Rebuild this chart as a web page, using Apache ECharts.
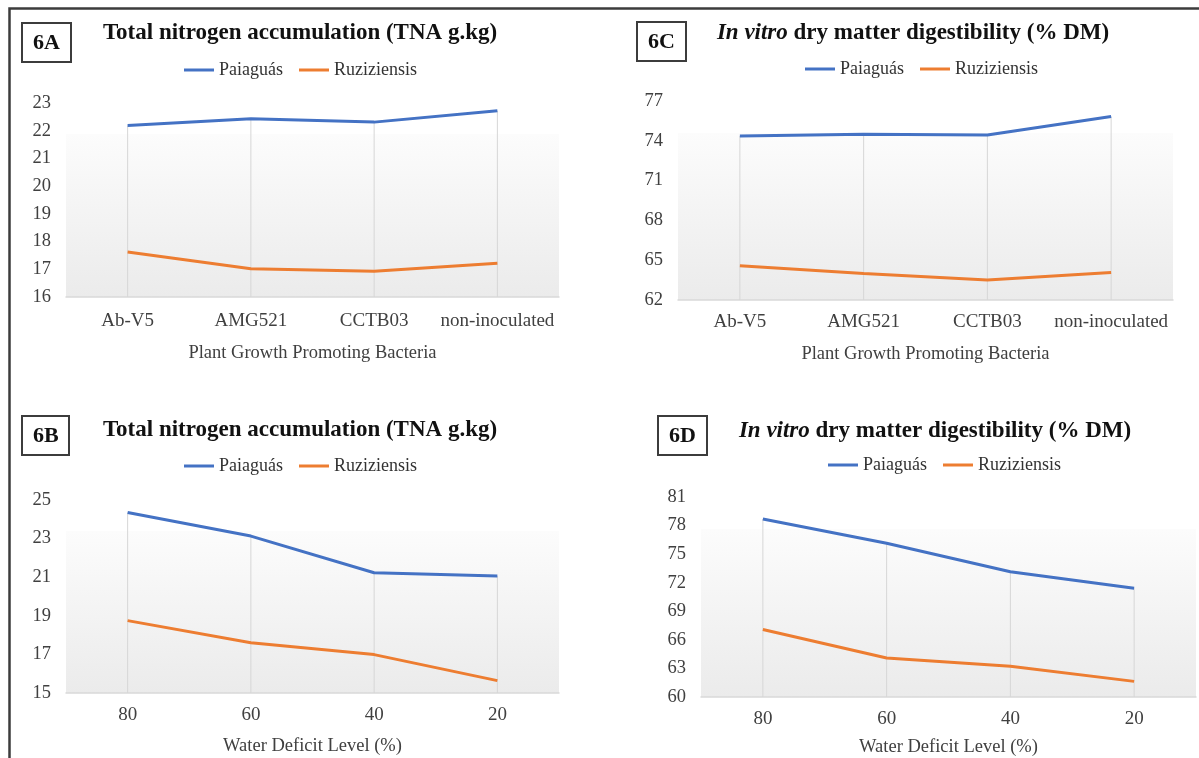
<!DOCTYPE html>
<html><head><meta charset="utf-8">
<script src="https://cdn.jsdelivr.net/npm/echarts@6/dist/echarts.min.js"></script>
<style>html,body{margin:0;padding:0;background:#fff}#c{width:1199px;height:758px}</style>
</head><body><div id="c"></div>
<script>
// ---- data ----
const bacteria = ['Ab-V5', 'AMG521', 'CCTB03', 'non-inoculated'];
const deficit = ['80', '60', '40', '20'];
const seriesNames = ['Paiaguás', 'Ruziziensis'];
const tnaBactPaiaguas = [22.19, 22.43, 22.31, 22.72];
const tnaBactRuz = [17.62, 17.02, 16.93, 17.22];
const ivdBactPaiaguas = [74.37, 74.50, 74.43, 75.83];
const ivdBactRuz = [64.58, 64.00, 63.50, 64.08];
const tnaWaterPaiaguas = [24.35, 23.13, 21.23, 21.06];
const tnaWaterRuz = [18.75, 17.60, 16.99, 15.64];
const ivdWaterPaiaguas = [78.68, 76.15, 73.16, 71.41];
const ivdWaterRuz = [67.09, 64.10, 63.22, 61.64];
const panelLabels = ['6A', '6C', '6B', '6D'];
const titleTNA = 'Total nitrogen accumulation (TNA g.kg)';
const titleIVD = '{i|In vitro} dry matter digestibility (% DM)';
const xNameBact = 'Plant Growth Promoting Bacteria';
const xNameWater = 'Water Deficit Level (%)';
const yRanges = [[16, 23, 1], [62, 77, 3], [15, 25, 2], [60, 81, 3]];

// ---- layout / style ----
const FONT = "'Liberation Serif', 'Times New Roman', serif";
const BLUE = '#4472C4', ORANGE = '#ED7D31';
const panels = [
  {cats: bacteria, p: tnaBactPaiaguas, r: tnaBactRuz, title: titleTNA, xName: xNameBact,
   grid: {left: 66, top: 103, width: 493, height: 194}, box: [22, 23], tc: [300, 33], leg: [184, 61], nameGap: 47, lm: 15},
  {cats: bacteria, p: ivdBactPaiaguas, r: ivdBactRuz, title: titleIVD, xName: xNameBact,
   grid: {left: 678, top: 101, width: 495, height: 199}, box: [637, 22], tc: [913, 33], leg: [805, 60], nameGap: 45, lm: 13},
  {cats: deficit, p: tnaWaterPaiaguas, r: tnaWaterRuz, title: titleTNA, xName: xNameWater,
   grid: {left: 66, top: 500, width: 493, height: 193}, box: [22, 416], tc: [300, 430], leg: [184, 457], nameGap: 44, lm: 13},
  {cats: deficit, p: ivdWaterPaiaguas, r: ivdWaterRuz, title: titleIVD, xName: xNameWater,
   grid: {left: 701, top: 497, width: 495, height: 200}, box: [658, 416], tc: [935, 431], leg: [828, 456], nameGap: 41, lm: 13}
];

const bg = {type: 'linear', x: 0, y: 0, x2: 0, y2: 1, colorStops: [
  {offset: 0, color: '#ffffff'}, {offset: 0.16, color: '#ffffff'},
  {offset: 0.161, color: '#fcfcfc'}, {offset: 1, color: '#ebebeb'}]};

const txt = (size, color, extra) => Object.assign({fontFamily: FONT, fontSize: size, color: color, fontWeight: 'normal', fontStyle: 'normal'}, extra || {});

const option = {
  animation: false,
  backgroundColor: '#ffffff',
  textStyle: {fontFamily: FONT},
  grid: [], xAxis: [], yAxis: [], series: [], legend: [], title: [], graphic: []
};

option.graphic.push({type: 'polyline', silent: true,
  shape: {points: [[9.5, 758], [9.5, 8.5], [1199, 8.5]]},
  style: {stroke: '#3c3c3c', lineWidth: 2.5, fill: null}});

panels.forEach((pn, i) => {
  option.grid.push(Object.assign({show: true, backgroundColor: bg, borderWidth: 0, containLabel: false}, pn.grid));
  option.xAxis.push({
    type: 'category', gridIndex: i, data: pn.cats, boundaryGap: true,
    axisLine: {show: true, lineStyle: {color: '#d9d9d9', width: 1.5}},
    axisTick: {show: false}, splitLine: {show: false},
    axisLabel: Object.assign(txt(19, '#404040'), {margin: pn.lm, interval: 0, hideOverlap: false}),
    name: pn.xName, nameLocation: 'middle', nameGap: pn.nameGap,
    nameTextStyle: txt(18.5, '#404040')
  });
  const yr = yRanges[i];
  option.yAxis.push({
    type: 'value', gridIndex: i, min: yr[0], max: yr[1], interval: yr[2],
    axisLine: {show: false}, axisTick: {show: false}, splitLine: {show: false},
    axisLabel: Object.assign(txt(18.5, '#404040'), {margin: 15})
  });
  option.series.push({
    type: 'bar', name: 'drop', xAxisIndex: i, yAxisIndex: i, silent: true,
    data: pn.p.map((v, k) => Math.max(v, pn.r[k])), barWidth: 1,
    itemStyle: {color: '#d6d6d6'}, z: 1
  });
  option.series.push({
    type: 'line', name: seriesNames[0], xAxisIndex: i, yAxisIndex: i, data: pn.p,
    symbol: 'none', lineStyle: {color: BLUE, width: 3}, itemStyle: {color: BLUE}, z: 3
  });
  option.series.push({
    type: 'line', name: seriesNames[1], xAxisIndex: i, yAxisIndex: i, data: pn.r,
    symbol: 'none', lineStyle: {color: ORANGE, width: 3}, itemStyle: {color: ORANGE}, z: 3
  });
  option.legend.push({
    data: seriesNames, left: pn.leg[0], top: pn.leg[1], padding: 0,
    icon: 'rect', itemWidth: 30, itemHeight: 3, itemGap: 16,
    textStyle: txt(18, '#333')
  });
  option.title.push({
    text: panelLabels[i], left: pn.box[0], top: pn.box[1],
    borderColor: '#3c3c3c', borderWidth: 2, padding: [9, 11, 8, 11],
    textStyle: {fontFamily: FONT, fontSize: 22, fontWeight: 'bold', color: '#111', lineHeight: 22}
  });
  option.graphic.push({
    type: 'text', silent: true, x: pn.tc[0], y: pn.tc[1],
    style: {
      text: pn.title, align: 'center', verticalAlign: 'middle',
      font: 'bold 23px ' + FONT, fill: '#111',
      rich: {i: {fontStyle: 'italic', fontWeight: 'bold', fontSize: 23, fontFamily: FONT, fill: '#111'}}
    }
  });
});

const chart = echarts.init(document.getElementById('c'), null, {renderer: 'canvas'});
chart.setOption(option);
</script>
</body></html>
